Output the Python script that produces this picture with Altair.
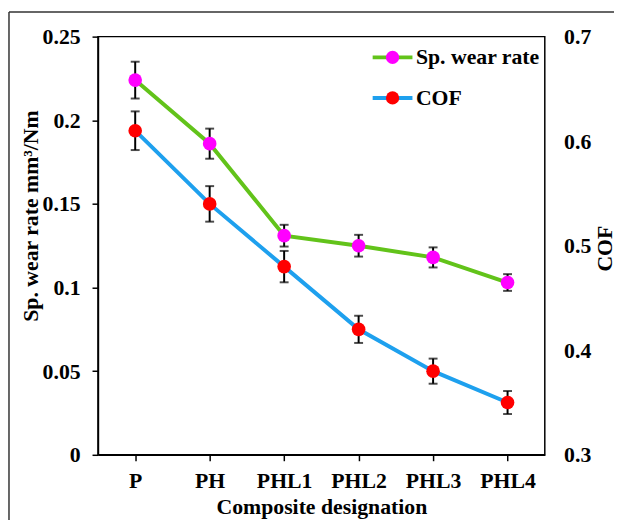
import altair as alt
import pandas as pd

categories = ["P", "PH", "PHL1", "PHL2", "PHL3", "PHL4"]
wear_rate = [0.224, 0.186, 0.131, 0.125, 0.118, 0.103]
wear_err = [0.011, 0.009, 0.0065, 0.0065, 0.006, 0.005]
cof = [0.61, 0.54, 0.48, 0.42, 0.38, 0.35]
cof_err = [0.0185, 0.017, 0.015, 0.013, 0.012, 0.011]
wear_ticks = [0, 0.05, 0.1, 0.15, 0.2, 0.25]
cof_ticks = [0.3, 0.4, 0.5, 0.6, 0.7]
series_names = ["Sp. wear rate", "COF"]
# marker legend keys (kept distinct so the marker legend is not merged with the line legend)
marker_names = [n + " " for n in series_names]

df = pd.DataFrame({
    "cat": categories,
    "wear": wear_rate,
    "wear_lo": [v - e for v, e in zip(wear_rate, wear_err)],
    "wear_hi": [v + e for v, e in zip(wear_rate, wear_err)],
    "cof": cof,
    "cof_lo": [v - e for v, e in zip(cof, cof_err)],
    "cof_hi": [v + e for v, e in zip(cof, cof_err)],
    "s_wear": [series_names[0]] * len(categories),
    "s_cof": [series_names[1]] * len(categories),
    "f_wear": [marker_names[0]] * len(categories),
    "f_cof": [marker_names[1]] * len(categories),
})

FONT = "Liberation Serif"
GREEN = "#62c31a"
BLUE = "#1ea0ee"
MAGENTA = "#ff00ff"
RED = "#ff0000"
FS = 22

xaxis = alt.Axis(title="Composite designation", labelAngle=0, labelFont=FONT, labelFontSize=FS,
                 labelFontWeight="bold", labelColor="black", labelBaseline="alphabetic",
                 labelPadding=27, tickSize=6, tickColor="black", tickWidth=1.5,
                 domainColor="black", domainWidth=1.5, titleFont=FONT, titleFontSize=FS,
                 titleFontWeight="bold", titleColor="black", titleBaseline="alphabetic",
                 titleY=59, grid=False)

x = alt.X("cat:N", sort=categories, scale=alt.Scale(type="point", padding=0.5), axis=xaxis)

left_axis = alt.Axis(title="Sp. wear rate mm³/Nm", orient="left", values=wear_ticks, format="~g",
                     labelFont=FONT, labelFontSize=FS, labelFontWeight="bold", labelColor="black",
                     labelPadding=12, tickSize=6, tickColor="black", tickWidth=1.5,
                     domainColor="black", domainWidth=1.5, grid=False,
                     titleFont=FONT, titleFontSize=FS, titleFontWeight="bold", titleColor="black",
                     titleAngle=270, titleX=-68, titleY=181, titleBaseline="middle", titleAlign="center")

right_axis = alt.Axis(title="COF", orient="right", values=cof_ticks, format="~g",
                      labelFont=FONT, labelFontSize=FS, labelFontWeight="bold", labelColor="black",
                      labelPadding=19, ticks=False, tickSize=0, domain=False, grid=False,
                      titleFont=FONT, titleFontSize=FS, titleFontWeight="bold", titleColor="black",
                      titleAngle=270, titleX=60, titleY=214, titleBaseline="middle", titleAlign="center")

leg_common = dict(title=None, orient="none", legendX=287, legendY=10, symbolSize=180,
                  labelFont=FONT, labelFontSize=FS, labelFontWeight="bold", labelColor="black",
                  labelOffset=12.6, rowPadding=19, padding=0, symbolOpacity=1)
line_legend = alt.Legend(symbolType="M-3,0H3", symbolStrokeWidth=4, **leg_common)
pt_legend = alt.Legend(symbolType="circle", symbolStrokeWidth=0, labelOpacity=0, **leg_common)

stroke_scale = alt.Scale(domain=series_names, range=[GREEN, BLUE])
fill_scale = alt.Scale(domain=marker_names, range=[MAGENTA, RED])


def series_layer(val, lo, hi, sfield, ffield, domain, axis):
    base = alt.Chart(df)
    ys = alt.Scale(domain=domain, nice=False, zero=False)
    line = base.mark_line(strokeWidth=4).encode(
        x=x, y=alt.Y(f"{val}:Q", scale=ys, axis=axis),
        color=alt.Color(f"{sfield}:N", scale=stroke_scale, legend=line_legend, sort=series_names))
    rule = base.mark_rule(strokeWidth=2, color="black").encode(
        x=x, y=alt.Y(f"{lo}:Q", scale=ys, axis=axis), y2=f"{hi}:Q")
    cap_hi = base.mark_tick(size=9, thickness=2, color="black", orient="horizontal").encode(
        x=x, y=alt.Y(f"{hi}:Q", scale=ys, axis=axis))
    cap_lo = base.mark_tick(size=9, thickness=2, color="black", orient="horizontal").encode(
        x=x, y=alt.Y(f"{lo}:Q", scale=ys, axis=axis))
    pts = base.mark_point(filled=True, size=190, opacity=1, shape="circle", strokeWidth=0).encode(
        x=x, y=alt.Y(f"{val}:Q", scale=ys, axis=axis),
        fill=alt.Fill(f"{ffield}:N", scale=fill_scale, legend=pt_legend, sort=marker_names))
    return alt.layer(line, rule, cap_hi, cap_lo, pts)


wear_layer = series_layer("wear", "wear_lo", "wear_hi", "s_wear", "f_wear", [0, 0.25], left_axis)
cof_layer = series_layer("cof", "cof_lo", "cof_hi", "s_cof", "f_cof", [0.3, 0.7], right_axis)

frame_df = pd.DataFrame({"k": [0]})
frame_top = alt.Chart(frame_df).mark_rule(color="#333", strokeWidth=1.5).encode(
    x=alt.value(-90), x2=alt.value(600), y=alt.value(-25))
frame_left = alt.Chart(frame_df).mark_rule(color="#333", strokeWidth=1.5).encode(
    x=alt.value(-90), y=alt.value(-25), y2=alt.value(600))

chart = alt.layer(wear_layer, cof_layer, frame_top, frame_left).resolve_scale(
    y="independent", color="shared", fill="shared"
).properties(
    width=452, height=423,
    padding={"left": 91, "top": 26, "right": 70, "bottom": 63},
    autosize=alt.AutoSizeParams(type="none"),
    background="white",
).configure_view(stroke="black", strokeWidth=1.5)

chart.save("out.html", embed_options={"renderer": "svg", "actions": False})
